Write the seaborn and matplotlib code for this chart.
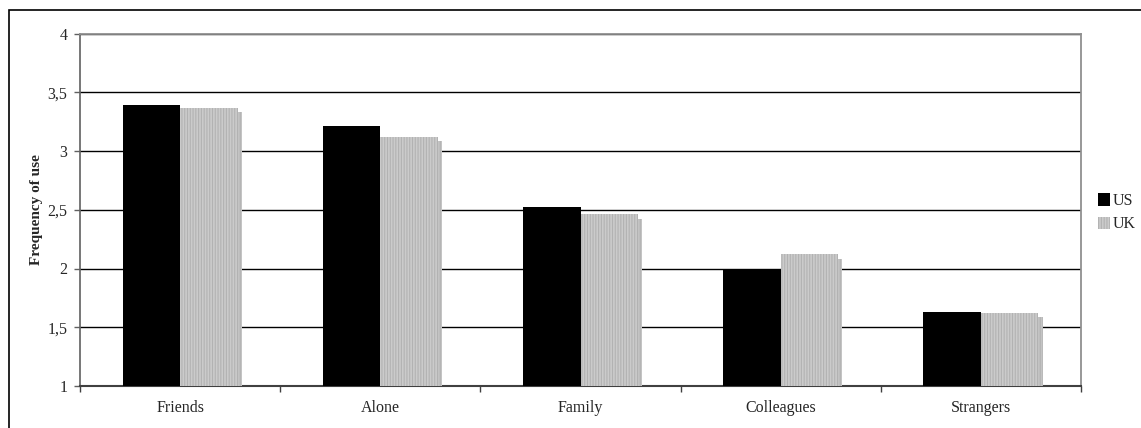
import matplotlib
matplotlib.use("Agg")
import matplotlib.pyplot as plt
import matplotlib.patheffects as pe
from matplotlib.patches import Rectangle
from matplotlib.ticker import FuncFormatter
import seaborn as sns
import pandas as pd

categories = ["Friends", "Alone", "Family", "Colleagues", "Strangers"]
us_values = [3.39, 3.21, 2.52, 1.99, 1.63]
uk_values = [3.37, 3.12, 2.46, 2.12, 1.62]
series = ["US", "UK"]
y_ticks = [1, 1.5, 2, 2.5, 3, 3.5, 4]

df = pd.DataFrame({
    "category": categories * 2,
    "value": us_values + uk_values,
    "country": ["US"] * len(categories) + ["UK"] * len(categories),
})

sns.set_theme(style="white")
plt.rcParams["font.family"] = ["Liberation Serif", "DejaVu Serif"]
plt.rcParams["hatch.linewidth"] = 0.8

UK_FACE = "#cbcbcb"
UK_HATCH = "#b2b2b2"

fig = plt.figure(figsize=(11.41, 4.28), dpi=100)
W, H = 1141, 428
ax = fig.add_axes([80 / W, 1 - 386 / H, (1081 - 80) / W, (386 - 33.5) / H])

sns.barplot(data=df, x="category", y="value", hue="country", hue_order=series,
            order=categories, palette={"US": "black", "UK": UK_FACE},
            width=0.575, gap=0, saturation=1, ax=ax, legend=False, zorder=3)

n = len(categories)
for i, p in enumerate(ax.patches[:2 * n]):
    p.set_linewidth(0)
    if i >= n:
        p.set_hatch("||||||")
        p.set_edgecolor(UK_HATCH)
        p.set_path_effects([
            pe.SimplePatchShadow(offset=(3, -3), shadow_rgbFace="#c4c4c4", alpha=1.0),
            pe.Normal(),
        ])

ax.set_ylim(1, 4)
ax.set_xlim(-0.5, n - 0.5)
ax.set_yticks(y_ticks)
ax.yaxis.set_major_formatter(FuncFormatter(lambda v, _: f"{v:g}".replace(".", ",")))
ax.yaxis.grid(True, color="black", linewidth=1.0, zorder=0)
ax.set_axisbelow(True)

ax.set_xlabel("")
ax.set_ylabel("Frequency of use", fontsize=11, fontweight="bold", labelpad=3)
ax.tick_params(axis="y", labelsize=11.5, left=True, length=4, width=1, color="#606060", pad=5)
ax.tick_params(axis="x", labelsize=11.5, pad=10)
ax.set_xticks([i + 0.5 for i in range(-1, n)], minor=True)
ax.set_xticks(range(n))
ax.tick_params(axis="x", which="major", length=0)
ax.tick_params(axis="x", which="minor", length=4, width=1, color="#404040", bottom=True)

for side in ["top", "right"]:
    ax.spines[side].set_color("#909090")
    ax.spines[side].set_linewidth(1.3)
ax.spines["left"].set_color("#606060")
ax.spines["bottom"].set_color("#404040")
ax.spines["left"].set_linewidth(1.2)
ax.spines["bottom"].set_linewidth(1.5)

# legend
handles = [
    Rectangle((0, 0), 1, 1, facecolor="black", edgecolor="none"),
    Rectangle((0, 0), 1, 1, facecolor=UK_FACE, edgecolor=UK_HATCH, hatch="||||||", linewidth=0),
]
fig.legend(handles, series, loc="upper left", bbox_to_anchor=(1090 / W, 1 - 185 / H),
           frameon=False, fontsize=11.5, handlelength=0.75, handleheight=0.8,
           handletextpad=0.2, labelspacing=0.45, borderpad=0)

# chart frame
fig.add_artist(Rectangle((9 / W, -0.05), 1.1, 1 - 10 / H + 0.05, transform=fig.transFigure,
                         fill=False, edgecolor="black", linewidth=1.2))

fig.savefig("out.png", dpi=100)
